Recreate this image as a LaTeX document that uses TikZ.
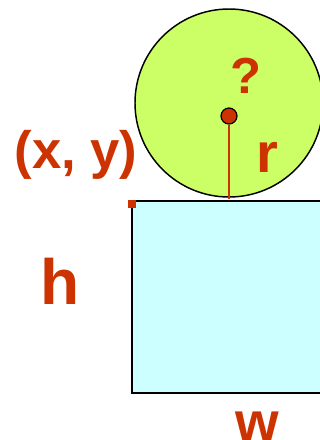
\documentclass[tikz,border=0pt]{standalone}
\usepackage{fontspec}
\setmainfont{Liberation Sans}
\definecolor{lbl}{HTML}{CC3300}
\definecolor{ballfill}{HTML}{CCFF66}
\definecolor{boxfill}{HTML}{CCFFFF}
\begin{document}
\begin{tikzpicture}[x=0.75pt,y=-0.75pt,
  lab/.style={text=lbl,font=\bfseries,inner sep=0pt,anchor=base}]
\useasboundingbox (0,0) rectangle (320,440);
\clip (0,0) rectangle (320,440);
% rectangle
\draw[line width=1.6pt,fill=boxfill] (132,201) rectangle (340,393);
% circle
\draw[line width=1.1pt,fill=ballfill] (229,103) circle (94);
% corner marker
\fill[lbl] (128,200) rectangle (136,208);
% radius line and centre dot
\coordinate (bottom) at (229,199);
\node[circle,draw=black,line width=0.9pt,fill=lbl,minimum size=12pt,inner sep=0pt] (dot) at (229,116) {};
\draw[lbl,line width=2.2pt] (dot.south) -- (bottom);
% labels
\node[lab,font=\bfseries\fontsize{39.5pt}{39.5pt}\selectfont] (xy) at (76,168) {(x, y)};
\node[lab,font=\bfseries\fontsize{38pt}{38pt}\selectfont] (q) at (246,93) {?};
\node[lab,font=\bfseries\fontsize{42pt}{42pt}\selectfont] (r) at (267,172) {r};
\node[lab,font=\bfseries\fontsize{48pt}{48pt}\selectfont] (h) at (60,304) {h};
\node[lab,font=\bfseries\fontsize{42pt}{42pt}\selectfont] (w) at (257,441) {w};
\end{tikzpicture}
\end{document}
